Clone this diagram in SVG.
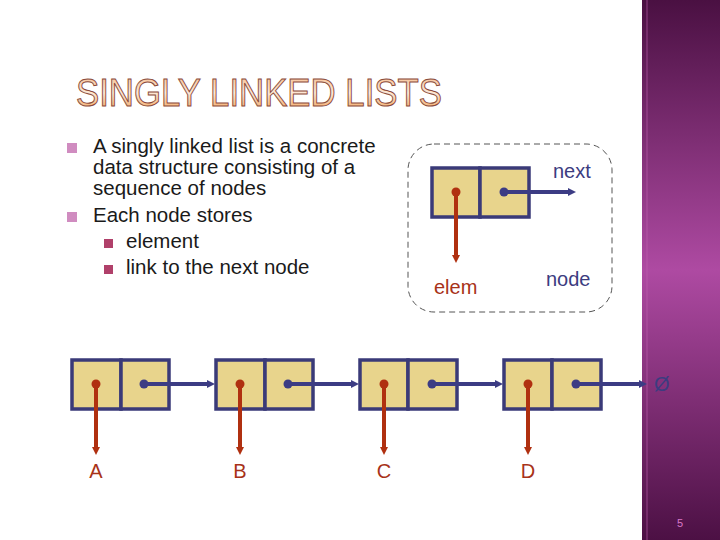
<svg xmlns="http://www.w3.org/2000/svg" width="720" height="540" viewBox="0 0 720 540">
<defs>
<linearGradient id="band" x1="0" y1="0" x2="0" y2="1">
<stop offset="0" stop-color="#4a1042"/>
<stop offset="0.5" stop-color="#ae4aa2"/>
<stop offset="1" stop-color="#4c1044"/>
</linearGradient>
<linearGradient id="title" x1="0" y1="0" x2="0" y2="1">
<stop offset="0" stop-color="#f4b888"/>
<stop offset="0.5" stop-color="#fde8d6"/>
<stop offset="1" stop-color="#f09848"/>
</linearGradient>
<marker id="ab" markerUnits="userSpaceOnUse" markerWidth="10" markerHeight="10" refX="0" refY="5" orient="auto">
<path d="M0,1 L8,5 L0,9 Z" fill="#3c3c84"/>
</marker>
<marker id="ar" markerUnits="userSpaceOnUse" markerWidth="10" markerHeight="10" refX="0" refY="5" orient="auto">
<path d="M0,1 L8,5 L0,9 Z" fill="#b03010"/>
</marker>
</defs>
<style>
.cell{fill:#e8d48c;stroke:#3a3a78;stroke-width:3.5}
.blue{stroke:#3c3c84;stroke-width:4;fill:none;marker-end:url(#ab)}
.red{stroke:#b03010;stroke-width:4;fill:none;marker-end:url(#ar)}
.bd{fill:#3c3c84}
.rd{fill:#b03010}
.body{font-family:"Liberation Sans",Arial,sans-serif;font-size:20.5px;fill:#1a1a1a}
.lbl{font-family:"Liberation Sans",Arial,sans-serif;font-size:20px}
.lr{fill:#a83218}
.lb{fill:#3c3c80}
.b1{fill:#d08cc0}
.b2{fill:#b0406a}
</style>
<rect x="0" y="0" width="720" height="540" fill="#ffffff"/>
<g id="band-deco">
<rect x="642" y="0" width="78" height="540" fill="url(#band)"/>
<rect x="646" y="0" width="2" height="540" fill="#c060b0" opacity="0.3"/>
<text x="677" y="527" font-family="Liberation Sans,Arial,sans-serif" font-size="11" fill="#d878c8">5</text>
</g>
<g id="title-text">
<text x="76" y="106" font-family="Liberation Sans,Arial,sans-serif" font-size="38" textLength="366" lengthAdjust="spacingAndGlyphs" fill="url(#title)" stroke="#8a4a3a" stroke-width="1">SINGLY LINKED LISTS</text>
</g>
<g id="bullets">
<rect class="b1" x="67" y="143" width="10" height="10"/>
<rect class="b1" x="67" y="212" width="10" height="10"/>
<rect class="b2" x="104" y="239" width="9" height="9"/>
<rect class="b2" x="104" y="265" width="9" height="9"/>
<text class="body" x="93" y="153">A singly linked list is a concrete</text>
<text class="body" x="93" y="174">data structure consisting of a</text>
<text class="body" x="93" y="195">sequence of nodes</text>
<text class="body" x="93" y="222">Each node stores</text>
<text class="body" x="126" y="248">element</text>
<text class="body" x="126" y="274">link to the next node</text>
</g>
<g id="legend">
<rect x="408" y="144" width="204" height="168" rx="26" ry="26" fill="none" stroke="#555" stroke-width="1" stroke-dasharray="6,4"/>
<rect class="cell" x="432" y="168" width="48" height="49"/>
<rect class="cell" x="480" y="168" width="49" height="49"/>
<text class="lbl lb" x="553" y="178">next</text>
<text class="lbl lr" x="434" y="294">elem</text>
<text class="lbl lb" x="546" y="286">node</text>
</g>
<g id="nodeA">
<rect class="cell" x="72" y="360" width="49" height="49"/>
<rect class="cell" x="121" y="360" width="48" height="49"/>
<text class="lbl lr" x="96" y="478" text-anchor="middle">A</text>
</g>
<g id="nodeB">
<rect class="cell" x="216" y="360" width="49" height="49"/>
<rect class="cell" x="265" y="360" width="48" height="49"/>
<text class="lbl lr" x="240" y="478" text-anchor="middle">B</text>
</g>
<g id="nodeC">
<rect class="cell" x="360" y="360" width="48" height="49"/>
<rect class="cell" x="408" y="360" width="49" height="49"/>
<text class="lbl lr" x="384" y="478" text-anchor="middle">C</text>
</g>
<g id="nodeD">
<rect class="cell" x="504" y="360" width="48" height="49"/>
<rect class="cell" x="552" y="360" width="49" height="49"/>
<text class="lbl lr" x="528" y="478" text-anchor="middle">D</text>
</g>
<g id="null">
<text class="lbl lb" x="654" y="391">Ø</text>
</g>
<g id="connectors">
<line class="red" x1="456" y1="192" x2="456" y2="255"/>
<circle class="rd" cx="456" cy="192" r="4.5"/>
<line class="blue" x1="504" y1="192" x2="568" y2="192"/>
<circle class="bd" cx="504" cy="192" r="4.5"/>
<line class="red" x1="96" y1="384" x2="96" y2="447"/>
<circle class="rd" cx="96" cy="384" r="4.5"/>
<line class="blue" x1="144" y1="384" x2="207" y2="384"/>
<circle class="bd" cx="144" cy="384" r="4.5"/>
<line class="red" x1="240" y1="384" x2="240" y2="447"/>
<circle class="rd" cx="240" cy="384" r="4.5"/>
<line class="blue" x1="288" y1="384" x2="351" y2="384"/>
<circle class="bd" cx="288" cy="384" r="4.5"/>
<line class="red" x1="384" y1="384" x2="384" y2="447"/>
<circle class="rd" cx="384" cy="384" r="4.5"/>
<line class="blue" x1="432" y1="384" x2="495" y2="384"/>
<circle class="bd" cx="432" cy="384" r="4.5"/>
<line class="red" x1="528" y1="384" x2="528" y2="447"/>
<circle class="rd" cx="528" cy="384" r="4.5"/>
<line class="blue" x1="576" y1="384" x2="639" y2="384"/>
<circle class="bd" cx="576" cy="384" r="4.5"/>
</g>
</svg>
